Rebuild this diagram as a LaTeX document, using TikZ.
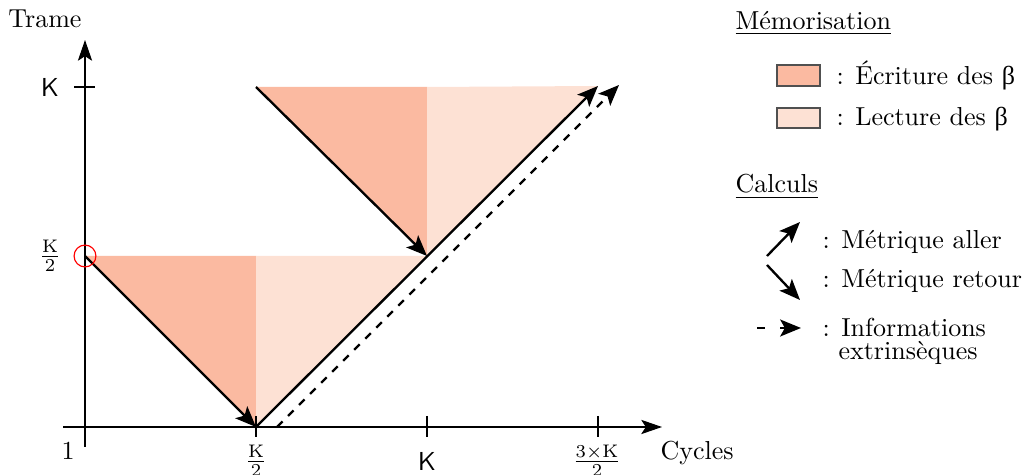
\documentclass[tikz,border=0pt]{standalone}
\usepackage{fontspec}
\newfontfamily\gk{Liberation Serif}
\usetikzlibrary{arrows.meta}
\definecolor{ecr}{RGB}{251,186,161}
\definecolor{lec}{RGB}{253,225,212}
\definecolor{boxline}{RGB}{80,80,80}
\begin{document}
\begin{tikzpicture}[x=0.3846pt,y=-0.3846pt,
  calcarrow/.style={line width=0.9pt,-{Stealth[length=8pt,width=6.5pt,inset=1.8pt]}},
  axisline/.style={line width=0.45pt,-{Stealth[length=8pt,width=5.5pt,inset=1.8pt]}},
  tickline/.style={line width=0.45pt},
  lbl/.style={inner sep=0pt},
  legbox/.style={draw=boxline,line width=0.6pt}]
\useasboundingbox (0,0) rectangle (1030,475);
% key points
\coordinate (O) at (85,427);
\coordinate (A) at (85,256);
\coordinate (B) at (256,256);
\coordinate (C) at (256,427);
\coordinate (D) at (427,256);
\coordinate (E) at (256,87);
\coordinate (F) at (427,87);
\coordinate (G) at (598,86);
\coordinate (Ds) at (277,427);
\coordinate (Dt) at (619,85);
% fills
\fill[ecr] (A) -- (B) -- (C) -- cycle;
\fill[lec] (B) -- (D) -- (C) -- cycle;
\fill[ecr] (E) -- (F) -- (D) -- cycle;
\fill[lec] (F) -- (G) -- (D) -- cycle;
% axes
\coordinate (xs) at (63,427);
\coordinate (xe) at (662,427);
\coordinate (ys) at (85,447);
\coordinate (ye) at (85,40);
\draw[axisline] (xs) -- (xe);
\draw[axisline] (ys) -- (ye);
% ticks
\draw[tickline] (74,87) -- (95,87);
\draw[tickline] (256,416) -- (256,437);
\draw[tickline] (427,416) -- (427,437);
\draw[tickline] (598,416) -- (598,437);
% arrows
\draw[calcarrow] (A) -- (C);
\draw[calcarrow] (E) -- (D);
\draw[calcarrow] (C) -- (G);
\draw[calcarrow,dashed] (Ds) -- (Dt);
% red circle
\draw[red,line width=0.45pt] (A) circle[radius=4.2pt];
% axis labels
\node[anchor=base,inner sep=0pt] (trame) at (45,28) {Trame};
\node[anchor=base west,inner sep=0pt] (cycles) at (660,460) {Cycles};
\node[lbl] (one) at (68,451) {1};
\node[lbl] (yK) at (50,87) {$\mathsf{K}$};
\node[lbl] (yK2) at (50,256) {$\frac{\mathrm{K}}{2}$};
\node[lbl] (xK2) at (256,461) {$\frac{\mathrm{K}}{2}$};
\node[lbl] (xK) at (427,461) {$\mathsf{K}$};
\node[lbl] (x3K2) at (597,461) {$\frac{3\times\mathrm{K}}{2}$};
% legend
\node[anchor=base west,inner sep=0pt] (mem) at (735,30) {\underline{Mémorisation}};
\draw[legbox,fill=ecr] (777,65) rectangle (820,86);
\draw[legbox,fill=lec] (777,108) rectangle (820,128);
\node[anchor=base west,inner sep=0pt] (ecrt) at (836,85) {: Écriture des {\gk β}};
\node[anchor=base west,inner sep=0pt] (lect) at (836,126) {: Lecture des {\gk β}};
\node[anchor=base west,inner sep=0pt] (calc) at (735,193) {\underline{Calculs}};
\coordinate (la1) at (767,256);
\coordinate (la2) at (800,222);
\coordinate (lr1) at (767,265);
\coordinate (lr2) at (800,300);
\coordinate (ld1) at (757,328);
\coordinate (ld2) at (801,328);
\draw[calcarrow] (la1) -- (la2);
\draw[calcarrow] (lr1) -- (lr2);
\draw[calcarrow,dash pattern=on 3pt off 6pt] (ld1) -- (ld2);
\node[anchor=base west,inner sep=0pt] (aller) at (822,249) {: Métrique aller};
\node[anchor=base west,inner sep=0pt] (retour) at (822,288) {: Métrique retour};
\node[anchor=base west,inner sep=0pt] (info) at (822,337) {: Informations};
\node[anchor=base west,inner sep=0pt] (extr) at (838,360) {extrinsèques};
\end{tikzpicture}
\end{document}
